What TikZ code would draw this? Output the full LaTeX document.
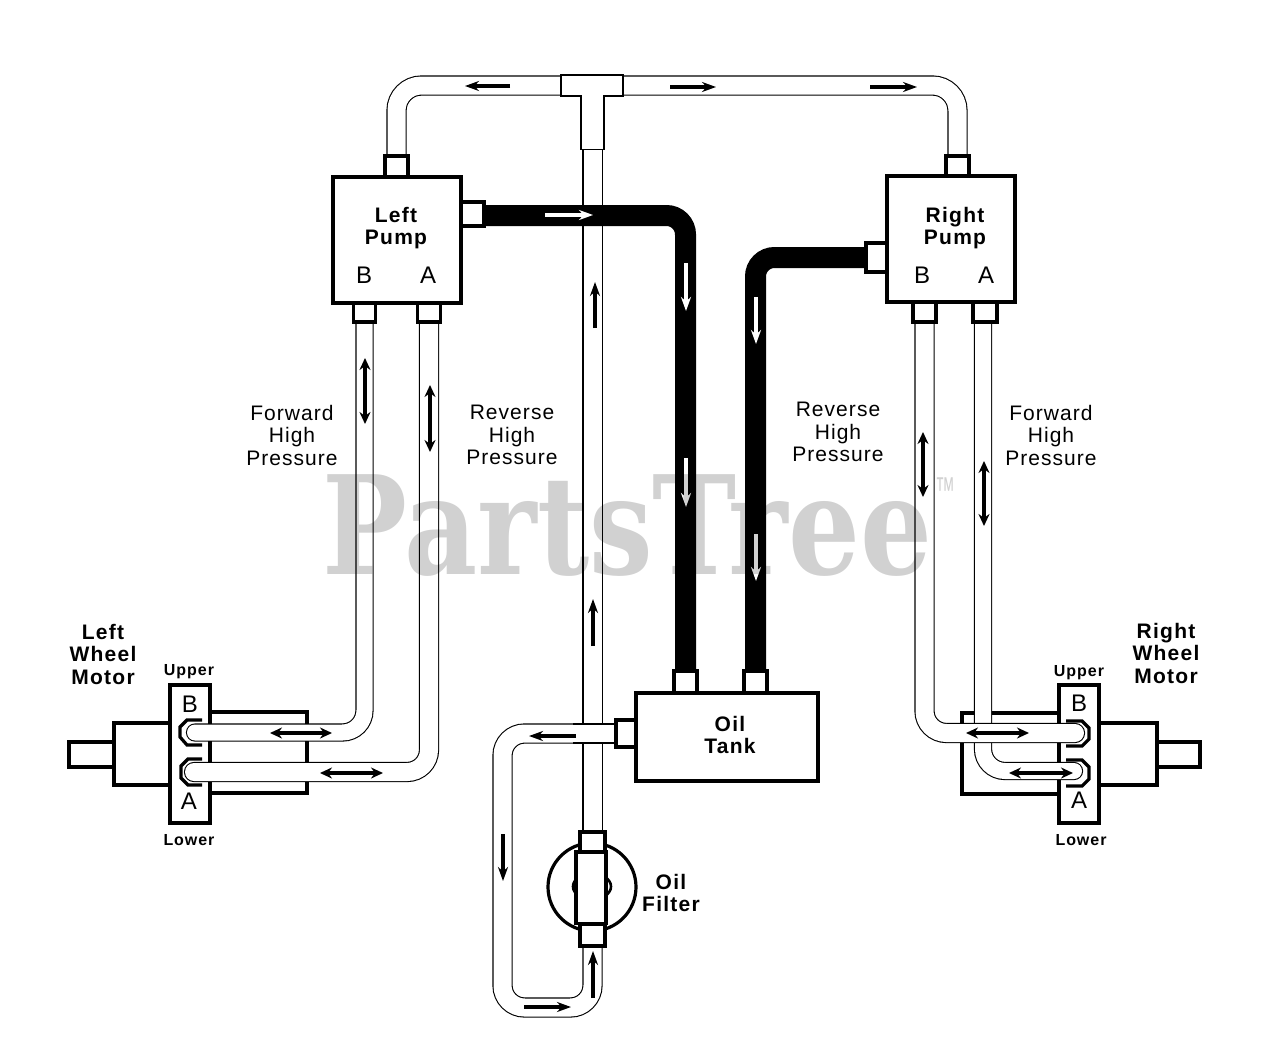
\documentclass[tikz,border=0pt]{standalone}
\usepackage{fontspec}
\setmainfont[LetterSpace=5]{Liberation Sans}
\newfontfamily\boldlabel[LetterSpace=6]{Liberation Sans Bold}
\newfontfamily\markfont[FakeStretch=0.825]{DejaVu Serif Bold}
\usetikzlibrary{arrows.meta,positioning}
\pgfdeclarelayer{ports}
\pgfsetlayers{main,ports}
\tikzset{
  box/.style={draw,fill=white,line width=3.2pt,inner sep=0pt},
  port/.style={draw,fill=white,line width=3.2pt,inner sep=0pt},
  fitting/.style={draw,fill=white,line width=1.1pt,inner sep=0pt},
  pipe/.style={draw,line width=1.1pt,double=white,double distance=16pt,rounded corners=22pt,line cap=round},
  widepipe/.style={pipe,double distance=18pt},
  oilpipe/.style={draw,line width=21pt,rounded corners=19pt},
  hexend/.style={line width=3.2pt,fill=white},
  flow/.style={line width=3.4pt,-{Stealth[length=14pt,width=10pt]}},
  flowlight/.style={flow,white},
  both/.style={line width=4pt,{Stealth[length=12pt,width=11pt]}-{Stealth[length=12pt,width=11pt]}},
  plain/.style={font=\fontsize{21}{22.5}\selectfont,align=center,inner sep=0pt},
  heavy/.style={font=\boldlabel\fontsize{21}{22.5}\selectfont,align=center,inner sep=0pt},
  tiny/.style={font=\boldlabel\fontsize{16}{18}\selectfont,inner sep=0pt},
  letter/.style={font=\fontsize{24}{24}\selectfont,inner sep=0pt},
  markstyle/.style={text=black!18,inner sep=0pt},
}
\begin{document}
\begin{tikzpicture}[x=1pt,y=-1pt]
        \useasboundingbox (0,0) rectangle (1280,1052);
        %% Pumps, tank and filter
        \node[box,minimum width=128pt,minimum height=126pt] (leftpump) at (397,240) {};
        \node[box,minimum width=128pt,minimum height=126pt] (rightpump) at (951,239) {};
        \node[box,minimum width=182pt,minimum height=88pt] (tank) at (727,737) {};
        %% Ports
        \begin{pgfonlayer}{ports}
        \node[port,minimum width=23pt,minimum height=21pt] (lefttop) at (396.5,166.5) {};
        \node[port,minimum width=23pt,minimum height=24pt] (leftout) at (472.5,214) {};
        \node[port,minimum width=22pt,minimum height=19pt] (leftb) at (364.5,312.5) {};
        \node[port,minimum width=23pt,minimum height=19pt] (lefta) at (429,312.5) {};
        \node[port,minimum width=23pt,minimum height=20pt] (righttop) at (957.5,166) {};
        \node[port,minimum width=21pt,minimum height=29pt] (rightout) at (876.5,257.5) {};
        \node[port,minimum width=23pt,minimum height=20pt] (rightb) at (924.5,312) {};
        \node[port,minimum width=24pt,minimum height=20pt] (righta) at (985,312) {};
        \node[port,minimum width=23pt,minimum height=22pt] (tankl) at (685.5,682) {};
        \node[port,minimum width=23pt,minimum height=22pt] (tankr) at (755.5,682) {};
        \node[port,minimum width=20pt,minimum height=27pt] (tankout) at (626,733.5) {};
        \node[box,minimum width=30pt,minimum height=72pt] (filter) at (591,887.5) {};
        \node[port,minimum width=25pt,minimum height=20pt] (filtertop) at (592.5,842) {};
        \node[port,minimum width=25pt,minimum height=22pt] (filterbot) at (592.5,935) {};
        \node[fitting,minimum width=23pt,minimum height=54pt] (tee) at (592.5,122.5) {};
        \node[fitting,minimum width=62pt,minimum height=21pt] (teebar) at (592,85.5) {};
        \fill[white] (582,94) rectangle (603,98);
        \end{pgfonlayer}
        %% Motors
        \node[box,minimum width=97pt,minimum height=81pt] (leftblock) at (258.5,752.5) {};
        \node[box,minimum width=56pt,minimum height=62pt] (leftbody) at (142,754) {};
        \node[box,minimum width=45pt,minimum height=25pt] (leftshaft) at (91.5,754.5) {};
        \node[box,minimum width=40pt,minimum height=138pt] (leftplate) at (190,754) {};
        \node[box,minimum width=97pt,minimum height=81pt] (rightblock) at (1010.5,753.5) {};
        \node[box,minimum width=58pt,minimum height=62pt] (rightbody) at (1128,754) {};
        \node[box,minimum width=43pt,minimum height=25pt] (rightshaft) at (1178.5,754.5) {};
        \node[box,minimum width=40pt,minimum height=138pt] (rightplate) at (1079,754) {};
        \coordinate (lefthigh) at (195,732.5);
        \coordinate (leftlow) at (194,772);
        \coordinate (righthigh) at (1075,733);
        \coordinate (rightlow) at (1074,771);
        \coordinate (loopcorner) at (502.5,1007.5);
        %% Motor fittings
        \draw[hexend] (202,720) -- (187,720) -- (180,727) -- (180,737) -- (187,745) -- (202,745);
        \draw[hexend] (202,759) -- (188,759) -- (181,766) -- (181,778) -- (188,785) -- (202,785);
        \draw[hexend] (1066,721) -- (1082,721) -- (1089,728) -- (1089,739) -- (1082,746) -- (1066,746);
        \draw[hexend] (1066,760) -- (1082,760) -- (1089,767) -- (1089,779) -- (1082,786) -- (1066,786);
        %% Motor lines
        \draw[pipe] (leftb.south) |- (lefthigh);
        \draw[widepipe] (lefta.south) |- (leftlow);
        \draw[pipe] ([xshift=-2pt]righta.south) |- (rightlow);
        \draw[widepipe] (rightb.south) |- (righthigh);
        %% Filter
        \draw[line width=3.2pt] (592,887) circle (44pt);
        \draw[line width=2.6pt,fill=white] (592,886.5) ellipse (19pt and 13pt);
        %% Return line
        \draw[widepipe] (tankout.west) -| (loopcorner) -| (filterbot.south);
        \draw[widepipe] (tee.south) -- (filtertop.north);
        \fill[white] (575,725) rectangle (616,742);
        \draw[line width=1.1pt] (573,724) -- (tankout.west |- 0,724) (573,743) -- (tankout.west |- 0,743);
        %% Supply line
        \draw[widepipe,rounded corners=25pt] (lefttop.north) |- (teebar) -| (righttop.north);
        %% High pressure lines
        \draw[oilpipe] ([yshift=-1.5pt]leftout.east) -| (tankl.north);
        \draw[oilpipe] (rightout.west) -| (tankr.north);
        %% Arrows
        \draw[flow] (510,86) -- (465,86);
        \draw[flow] (670,87) -- (716,87);
        \draw[flow] (870,87) -- (917,87);
        \draw[flow] (595,328) -- (595,282);
        \draw[flow] (593,646) -- (593,599);
        \draw[flow] (593,998) -- (593,951);
        \draw[flow] (576,736) -- (529,736);
        \draw[flow] (503,834) -- (503,881);
        \draw[flow] (524,1007) -- (571,1007);
        \draw[flowlight] (545,215) -- (593,215);
        \draw[flowlight] (686,263) -- (686,311);
        \draw[flowlight] (686,458) -- (686,507);
        \draw[flowlight] (756,297) -- (756,344);
        \draw[flowlight] (756,534) -- (756,581);
        \draw[both] (365,358) -- (365,424);
        \draw[both] (430,385) -- (430,452);
        \draw[both] (923,432) -- (923,497);
        \draw[both] (984,461) -- (984,526);
        \draw[both] (270,733) -- (332,733);
        \draw[both] (320,773) -- (383,773);
        \draw[both] (966,733) -- (1029,733);
        \draw[both] (1009,773) -- (1073,773);
        %% Labels
        \node[heavy] (leftname) at (396,228) {Left\\Pump};
        \node[heavy] (rightname) at (955,228) {Right\\Pump};
        \node[letter] (lb) at (364,275) {B};
        \node[letter] (la) at (428,275) {A};
        \node[letter] (rb) at (922,275) {B};
        \node[letter] (ra) at (986,275) {A};
        \node[plain] (fl) at (292,435) {Forward\\High\\Pressure};
        \node[plain] (rl) at (512,435) {Reverse\\High\\Pressure};
        \node[plain] (rr) at (838,432) {Reverse\\High\\Pressure};
        \node[plain] (fr) at (1051,435) {Forward\\High\\Pressure};
        \node[heavy] (lm) at (103,654) {Left\\Wheel\\Motor};
        \node[heavy] (rm) at (1166,653) {Right\\Wheel\\Motor};
        \node[tiny] (lu) at (189,672) {Upper};
        \node[tiny] (ll) at (189,840) {Lower};
        \node[tiny] (ru) at (1079,673) {Upper};
        \node[tiny] (rl2) at (1081,840) {Lower};
        \node[letter] (mb) at (190,704) {B};
        \node[letter] (ma) at (189,801) {A};
        \node[letter] (nb) at (1079,703) {B};
        \node[letter] (na) at (1079,800) {A};
        \node[heavy] (oil) at (730,735) {Oil\\Tank};
        \node[heavy] (oilf) at (671,893) {Oil\\Filter};
        %% Watermark
        \begin{scope}[blend mode=multiply]
        \node[markstyle,anchor=base west,font=\markfont\fontsize{137}{137}\selectfont] (mark) at (322,574) {PartsTree};
        \node[markstyle,font=\fontsize{20}{20}\selectfont] (tm) at (945,490) {\scalebox{1}[1.8]{™}};
        \end{scope}
\end{tikzpicture}
\end{document}
